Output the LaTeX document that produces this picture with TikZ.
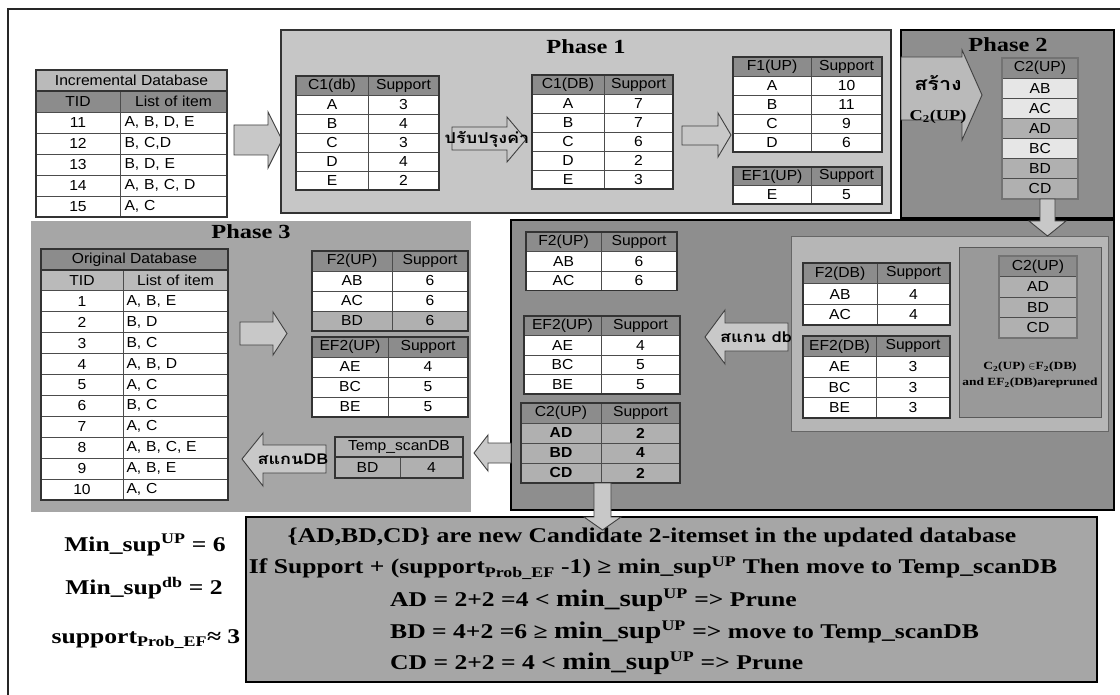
\documentclass[tikz,border=0pt]{standalone}
\usepackage{fontspec}
\setmainfont[FakeStretch=1.22]{Liberation Serif}
\newfontfamily\tabfont[FakeStretch=1.08]{Liberation Sans}
\newfontfamily\thaifont[Script=Thai,FakeStretch=1.2]{Loma}
\definecolor{boxlight}{RGB}{198,198,198}
\definecolor{boxmid}{RGB}{166,166,166}
\definecolor{boxdark}{RGB}{142,142,142}
\definecolor{boxinner}{RGB}{182,182,182}
\definecolor{hdrgray}{RGB}{140,140,140}
\definecolor{titlegray}{RGB}{186,186,186}
\definecolor{rowgray}{RGB}{176,176,176}
\definecolor{paler}{RGB}{230,230,230}
\definecolor{arrowgray}{RGB}{200,200,200}
% two-column table: name, x0, xmid, x1, top, row height, rows, style of 2nd column, rows a/b/fill
\newcommand{\sptable}[9]{%
  \foreach \ca/\cb/\cf [count=\i from 0] in {#9} {
    \fill[\cf] (#2,{#5+\i*#6}) rectangle (#4,{#5+(\i+1)*#6});
    \node[cell] (#1-\i-a) at ({(#2+#3)/2},{#5+(\i+0.5)*#6}) {\ca};
    \node[cell,#8] (#1-\i-b) at ({(#3+#4)/2},{#5+(\i+0.5)*#6}) {\cb};
  }
  \foreach \i in {1,...,#7} {\draw[rowline] (#2,{#5+\i*#6}) -- (#4,{#5+\i*#6});}
  \draw[rowline] (#3,#5) -- (#3,{#5+#7*#6});
  \draw[tframe] (#2,#5) rectangle (#4,{#5+#7*#6});
}
\newcommand{\bigms}{{\fontsize{24}{26}\selectfont min\_sup}}

\begin{document}
\begin{tikzpicture}[x=1pt, y=-1pt,
  cell/.style={font=\tabfont\fontsize{14.5}{16}\selectfont, inner sep=0pt},
  listcol/.style={text width=98pt, align=left},
  rowline/.style={draw=black!70, line width=0.8pt},
  tframe/.style={draw=black!80, line width=1.3pt},
  barrow/.style={fill=arrowgray, draw=black!75, line width=0.9pt},
  phase/.style={font=\bfseries\fontsize{20}{22}\selectfont, inner sep=0pt},
  note/.style={font=\bfseries\fontsize{21}{24}\selectfont, inner sep=0pt},
  thai/.style={font=\thaifont\bfseries\fontsize{15}{17}\selectfont, inner sep=0pt}]
\useasboundingbox (0,0) rectangle (1120,695);
\clip (0,0) rectangle (1120,695);
\draw[line width=1.5pt, black!85] (8,9) rectangle (1130,710);

% incremental database
\fill[titlegray] (36,70) rectangle (227,91);
\node[cell] (incTitle) at (131.5,80.5) {Incremental Database};
\sptable{inc}{36}{120}{227}{91}{21}{6}{listcol}{TID/{\makebox[98pt]{List of item}}/hdrgray, 11/{A, B, D, E}/white, 12/{B, C,D}/white, 13/{B, D, E}/white, 14/{A, B, C, D}/white, 15/{A, C}/white}
\draw[tframe] (36,70) rectangle (227,217);
\draw[barrow] (234,125) -- (268,125) -- (268,112) -- (282,140) -- (268,168) -- (268,155) -- (234,155) -- cycle;

% Phase 1
\draw[fill=boxlight, draw=black!80, line width=1.5pt] (281,30) rectangle (891,213);
\node[phase] (ph1) at (586,47) {Phase 1};
\sptable{cdb}{296}{368}{439}{76}{19}{6}{}{C1(db)/Support/hdrgray, A/3/white, B/4/white, C/3/white, D/4/white, E/2/white}
\draw[barrow] (452,127) -- (507,127) -- (507,117) -- (526,139.5) -- (507,162) -- (507,150) -- (452,150) -- cycle;
\node[thai] (upd) at (487,139) {ปรับปรุงค่า};
\sptable{cDB}{532}{604}{673}{75}{19}{6}{}{C1(DB)/Support/hdrgray, A/7/white, B/7/white, C/6/white, D/2/white, E/3/white}
\draw[barrow] (682,126) -- (718,126) -- (718,113) -- (731,135) -- (718,157) -- (718,145) -- (682,145) -- cycle;
\sptable{fup}{733}{811}{882}{57}{19}{5}{}{F1(UP)/Support/hdrgray, A/10/white, B/11/white, C/9/white, D/6/white}
\sptable{efup}{733}{811}{882}{167}{18.5}{2}{}{EF1(UP)/Support/hdrgray, E/5/white}

% Phase 2
\draw[fill=boxdark, draw=black, line width=2pt] (901,30) rectangle (1114,218);
\node[phase] (ph2) at (1008,45) {Phase 2};
\draw[barrow, fill=titlegray] (901,57) -- (962,57) -- (962,50) -- (982,95) -- (962,140) -- (962,120) -- (901,120) -- cycle;
\node[thai, font=\thaifont\bfseries\fontsize{18}{20}\selectfont] (mk) at (938,83) {สร้าง};
\node[note, font=\bfseries\fontsize{15}{17}\selectfont] (mkc) at (938,117) {C\textsubscript{2}(UP)};
\foreach \t/\f [count=\i from 0] in {C2(UP)/hdrgray, AB/paler, AC/paler, AD/rowgray, BC/paler, BD/rowgray, CD/rowgray} {
  \fill[\f] (1002,{58+\i*20.15}) rectangle (1078,{58+(\i+1)*20.15});
  \draw[rowline] (1002,{58+\i*20.15}) -- (1078,{58+\i*20.15});
  \node[cell] (ctwo-\i) at (1040,{58+(\i+0.5)*20.15}) {\t};
}
\draw[tframe, draw=black!55] (1002,58) rectangle (1078,199);

% pruning step
\draw[fill=boxdark, draw=black, line width=2pt] (511,220) rectangle (1114,510);
\draw[fill=boxinner, draw=black!60, line width=1pt] (791,237) rectangle (1108,431);
\sptable{fdb}{803}{877}{950}{263}{20.7}{3}{}{F2(DB)/Support/hdrgray, AB/4/white, AC/4/white}
\sptable{efdb}{803}{876}{950}{336}{20.5}{4}{}{EF2(DB)/Support/hdrgray, AE/3/white, BC/3/white, BE/3/white}
\draw[fill=boxdark!90!white, draw=black!65, line width=1pt] (959,248) rectangle (1101,417);
\foreach \t/\f [count=\i from 0] in {C2(UP)/hdrgray, AD/rowgray, BD/rowgray, CD/rowgray} {
  \fill[\f] (999,{256+\i*20.5}) rectangle (1077,{256+(\i+1)*20.5});
  \draw[rowline] (999,{256+\i*20.5}) -- (1077,{256+\i*20.5});
  \node[cell] (cmini-\i) at (1038,{256+(\i+0.5)*20.5}) {\t};
}
\draw[tframe, draw=black!55] (999,256) rectangle (1077,338);
\node[note, font=\bfseries\fontsize{11}{13}\selectfont] (prn1) at (1030,367) {C\textsubscript{2}(UP) $\in$F\textsubscript{2}(DB)};
\node[note, font=\bfseries\fontsize{11}{13}\selectfont] (prn2) at (1030,383) {and EF\textsubscript{2}(DB)arepruned};
\draw[barrow] (788,323) -- (725,323) -- (725,310) -- (705,337) -- (725,364) -- (725,351) -- (788,351) -- cycle;
\node[thai] (scdb) at (756,337) {สแกน db};
\sptable{fuplr}{526}{601}{677}{232}{19.5}{3}{}{F2(UP)/Support/hdrgray, AB/6/white, AC/6/white}
\sptable{efuplr}{524}{601}{680}{316}{19.5}{4}{}{EF2(UP)/Support/hdrgray, AE/4/white, BC/5/white, BE/5/white}
\sptable{csup}{521}{601}{680}{403}{20}{4}{}{C2(UP)/Support/hdrgray, {\bfseries AD}/{\bfseries 2}/rowgray, {\bfseries BD}/{\bfseries 4}/rowgray, {\bfseries CD}/{\bfseries 2}/rowgray}
\draw[barrow] (511,443) -- (488,443) -- (488,435) -- (474,453) -- (488,471) -- (488,463) -- (511,463) -- cycle;
\draw[barrow] (1040,199) -- (1055,199) -- (1055,221) -- (1066,221) -- (1047.5,236) -- (1029,221) -- (1040,221) -- cycle;

% Phase 3
\fill[boxmid] (31,221) rectangle (471,512);
\node[phase] (ph3) at (251,232) {Phase 3};
\fill[hdrgray] (41,249) rectangle (228,270);
\node[cell] (orgTitle) at (134.5,259.5) {Original Database};
\sptable{org}{41}{123}{228}{270}{20.9}{11}{listcol}{TID/{\makebox[98pt]{List of item}}/titlegray, 1/{A, B, E}/white, 2/{B, D}/white, 3/{B, C}/white, 4/{A, B, D}/white, 5/{A, C}/white, 6/{B, C}/white, 7/{A, C}/white, 8/{A, B, C, E}/white, 9/{A, B, E}/white, 10/{A, C}/white}
\draw[tframe] (41,249) rectangle (228,500);
\draw[barrow] (240,322) -- (273,322) -- (273,312) -- (287,333.5) -- (273,355) -- (273,345) -- (240,345) -- cycle;
\sptable{fupthree}{312}{392}{468}{251}{20}{4}{}{F2(UP)/Support/hdrgray, AB/6/white, AC/6/white, BD/6/rowgray}
\sptable{efupthree}{312}{388}{468}{337}{20}{4}{}{EF2(UP)/Support/hdrgray, AE/4/white, BC/5/white, BE/5/white}
\draw[barrow] (326,445) -- (263,445) -- (263,433) -- (242,459) -- (263,486) -- (263,473) -- (326,473) -- cycle;
\node[thai] (scDB) at (293,459) {สแกนDB};
\fill[rowgray] (335,437) rectangle (463,457);
\node[cell] (tmpTitle) at (399,447) {Temp\_scanDB};
\sptable{tmp}{335}{400}{463}{457}{21}{1}{}{BD/4/rowgray}
\draw[tframe] (335,437) rectangle (463,478);

% thresholds
\node[note] (msup) at (145,545) {Min\_sup\textsuperscript{UP} = 6};
\node[note] (mdb) at (144,588) {Min\_sup\textsuperscript{db} = 2};
\node[note] (sprob) at (146,639) {support\textsubscript{Prob\_EF}≈ 3};

% candidate check
\draw[fill=boxmid, draw=black, line width=2pt] (246,517) rectangle (1097,682);
\node[note] (ln1) at (652,537) {\{AD,BD,CD\} are new Candidate 2-itemset in the updated database};
\node[note] (ln2) at (653,568) {If Support + (support\textsubscript{Prob\_EF} -1) ≥ min\_sup\textsuperscript{UP} Then move to Temp\_scanDB};
\node[note, anchor=west] (ln3) at (390,600) {AD = 2+2 =4 < \bigms\textsuperscript{UP} => Prune};
\node[note, anchor=west] (ln4) at (390,632) {BD = 4+2 =6 ≥ \bigms\textsuperscript{UP} => move to Temp\_scanDB};
\node[note, anchor=west] (ln5) at (390,663) {CD = 2+2 = 4 < \bigms\textsuperscript{UP} => Prune};
\draw[barrow] (594,483) -- (611,483) -- (611,517) -- (621,517) -- (602.5,530) -- (584,517) -- (594,517) -- cycle;
\end{tikzpicture}
\end{document}
